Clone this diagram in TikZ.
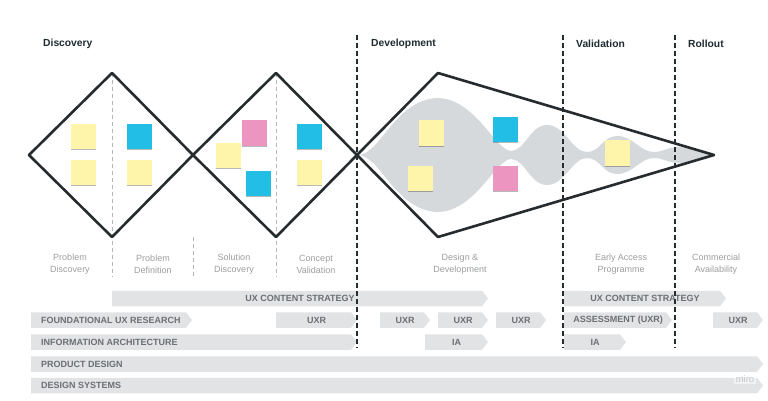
\documentclass[tikz,border=0pt]{standalone}
\usepackage{fontspec}
\setmainfont{Liberation Sans}
\usetikzlibrary{shadows}
\definecolor{ink}{HTML}{262B2E}
\definecolor{headc}{HTML}{1F2B30}
\definecolor{labelc}{HTML}{9C9EA0}
\definecolor{barfillc}{HTML}{E1E3E5}
\definecolor{bartextc}{HTML}{6C6F73}
\definecolor{blobc}{HTML}{D6D9DC}
\definecolor{yelc}{HTML}{FEF5AA}
\definecolor{bluc}{HTML}{22BEE6}
\definecolor{pinc}{HTML}{EC95C0}
\definecolor{gdash}{HTML}{B3B7BB}
\definecolor{wmc}{HTML}{C4C7CA}
\tikzset{
  heading/.style={font=\bfseries\fontsize{10.3}{12}\selectfont, text=headc, anchor=west, inner sep=0pt},
  phase/.style={font=\fontsize{9}{12}\selectfont, text=labelc, align=center, inner sep=0pt},
  bartext/.style={font=\bfseries\fontsize{9}{10}\selectfont, text=bartextc, inner sep=0pt},
  barshape/.style={fill=barfillc},
  note/.style={minimum size=25pt, inner sep=0pt, draw=none,
    drop shadow={shadow xshift=0pt, shadow yshift=-1.2pt, opacity=0.28, fill=black}},
  yel/.style={note, fill=yelc},
  blu/.style={note, fill=bluc},
  pin/.style={note, fill=pinc},
  outline/.style={draw=ink, line width=2.6pt, line join=round},
  phasedash/.style={draw=ink, line width=1.3pt, dash pattern=on 5pt off 3pt},
  subdash/.style={draw=gdash, line width=0.8pt, dash pattern=on 4pt off 3pt},
}
\newcommand\uxbarc[5]{% name, x1, x2, y, text
  \fill[barshape] (#2,#4-7.75) -- (#3-6,#4-7.75) -- (#3,#4) -- (#3-6,#4+7.75) -- (#2,#4+7.75) -- cycle;
  \node[bartext] (#1) at ({(#2+#3)/2},#4) {#5};}
\newcommand\uxbarl[5]{%
  \fill[barshape] (#2,#4-7.75) -- (#3-6,#4-7.75) -- (#3,#4) -- (#3-6,#4+7.75) -- (#2,#4+7.75) -- cycle;
  \node[bartext, anchor=west] (#1) at (#2+10,#4) {#5};}
\begin{document}
\begin{tikzpicture}[x=1pt, y=-1pt]
\useasboundingbox (0,0) rectangle (768,401);
\fill[white] (0,0) rectangle (768,401);

% headings
\node[heading] (hdisc) at (43,44) {Discovery};
\node[heading] (hdev) at (371,44) {Development};
\node[heading] (hval) at (576,44) {Validation};
\node[heading] (hroll) at (688,44) {Rollout};

% grey blob
\fill[blobc] (358,155) .. controls (380,155) and (395,100) .. (437,98)
  .. controls (475,98) and (495,150) .. (511,151)
  .. controls (525,151) and (530,125) .. (547,125)
  .. controls (565,125) and (572,152) .. (587,152)
  .. controls (600,152) and (603,136) .. (617,136)
  .. controls (633,136) and (640,152) .. (654,152)
  .. controls (663,152) and (668,147) .. (679,147)
  .. controls (695,147) and (705,154) .. (713,155)
  .. controls (705,156) and (695,163) .. (679,163)
  .. controls (668,163) and (663,158) .. (654,158)
  .. controls (640,158) and (633,174) .. (617,174)
  .. controls (603,174) and (600,158) .. (587,158)
  .. controls (572,158) and (565,185) .. (547,185)
  .. controls (530,185) and (525,159) .. (511,159)
  .. controls (495,160) and (475,212) .. (437,212)
  .. controls (395,210) and (380,155) .. (358,155) -- cycle;

% sub-phase dashed lines
\draw[subdash] (112,73) -- (112,277);
\draw[subdash] (193,237) -- (193,277);
\draw[subdash] (276,73) -- (276,277);

% diamonds and funnel
\draw[outline] (29,155) -- (112,73) -- (193,155) -- (112,237) -- cycle;
\draw[outline] (193,155) -- (276,73) -- (357,155) -- (276,237) -- cycle;
\draw[outline] (357,155) -- (438,73) -- (714,155) -- (438,237) -- cycle;

% sticky notes
\node[yel] (s1) at (83.5,136.5) {};
\node[yel] (s2) at (83.5,172.5) {};
\node[blu] (s3) at (139.5,136.5) {};
\node[yel] (s4) at (139.5,172.5) {};
\node[pin] (s5) at (254.5,133) {};
\node[yel] (s6) at (228.5,155.5) {};
\node[blu] (s7) at (258.5,183) {};
\node[blu] (s8) at (309.5,136.5) {};
\node[yel] (s9) at (309.5,172.5) {};
\node[yel] (s10) at (431.5,133) {};
\node[yel] (s11) at (420.5,178) {};
\node[blu] (s12) at (505.5,129.5) {};
\node[pin] (s13) at (505.5,178.5) {};
\node[yel] (s14) at (617.5,153) {};

% phase labels
\node[phase] (l1) at (70,264) {Problem\\Discovery};
\node[phase] (l2) at (153,264) {Problem\\Definition};
\node[phase] (l3) at (234,264) {Solution\\Discovery};
\node[phase] (l4) at (316,264) {Concept\\Validation};
\node[phase] (l5) at (460,264) {Design \&\\Development};
\node[phase] (l6) at (621,264) {Early Access\\Programme};
\node[phase] (l7) at (716,264) {Commercial\\Availability};

% bars
\uxbarc{b1}{112}{488}{298.5}{UX CONTENT STRATEGY}
\uxbarc{b2}{564}{726}{298.5}{UX CONTENT STRATEGY}
\uxbarl{b3}{31}{192}{320}{FOUNDATIONAL UX RESEARCH}
\uxbarc{b4}{276}{357}{320}{UXR}
\uxbarc{b5}{380}{430}{320}{UXR}
\uxbarc{b6}{438}{488}{320}{UXR}
\uxbarc{b7}{496}{546}{320}{UXR}
\uxbarc{b8}{564}{672}{320}{ASSESSMENT (UXR)}
\uxbarc{b9}{713}{763}{320}{UXR}
\uxbarl{b10}{31}{357}{342}{INFORMATION ARCHITECTURE}
\uxbarc{b11}{425}{488}{342}{IA}
\uxbarc{b12}{564}{626}{342}{IA}
\uxbarl{b13}{31}{763}{364}{PRODUCT DESIGN}
\uxbarl{b14}{31}{763}{385.5}{DESIGN SYSTEMS}

% phase dividers
\draw[phasedash] (357,35) -- (357,348);
\draw[phasedash] (563,35) -- (563,348);
\draw[phasedash] (675,35) -- (675,348);

% watermark
\node[fill=white, fill opacity=0.5, text opacity=1, text=wmc, font=\fontsize{9.5}{10}\selectfont, inner xsep=2pt, inner ysep=2pt] (wm) at (745,379) {miro};
\end{tikzpicture}
\end{document}
